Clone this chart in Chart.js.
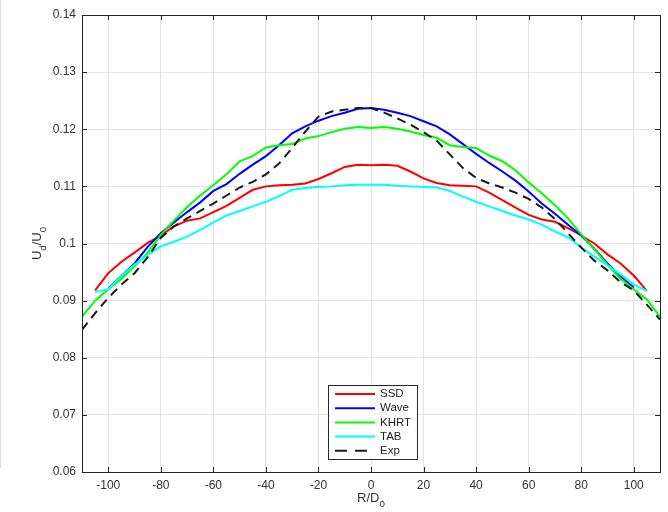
<!DOCTYPE html>
<html>
<head>
<meta charset="utf-8">
<script src="https://cdn.jsdelivr.net/npm/chart.js@4.4.1/dist/chart.umd.min.js"></script>
<style>
html, body { margin: 0; padding: 0; background: #fff; }
</style>
</head>
<body>
<canvas id="c" width="668" height="512"></canvas>
<script>
// radial position R/D0, step 5
const radius = [-110, -105, -100, -95, -90, -85, -80, -75, -70, -65, -60, -55, -50, -45, -40, -35, -30, -25, -20, -15, -10, -5,
    0, 5, 10, 15, 20, 25, 30, 35, 40, 45, 50, 55, 60, 65, 70, 75, 80, 85, 90, 95, 100, 105, 110];

const ssd = [null, 0.0918, 0.0948, 0.0968, 0.0984, 0.1001, 0.1014, 0.1030, 0.1040, 0.1044, 0.1055, 0.1066, 0.1080, 0.1094, 0.1100, 0.1102, 0.1103, 0.1105, 0.1113, 0.1123, 0.1134, 0.1138,
    0.1137, 0.1138, 0.1136, 0.1126, 0.1114, 0.1106, 0.1102, 0.1101, 0.1100, 0.1089, 0.1076, 0.1063, 0.1050, 0.1042, 0.1038, 0.1027, 0.1014, 0.1000, 0.0981, 0.0965, 0.0944, 0.0917, null];

const wave = [null, null, 0.0921, 0.0943, 0.0965, 0.0994, 0.1018, 0.1037, 0.1055, 0.1072, 0.1092, 0.1104, 0.1122, 0.1138, 0.1153, 0.1172, 0.1193, 0.1205, 0.1215, 0.1223, 0.1229, 0.1236,
    0.1237, 0.1234, 0.1229, 0.1223, 0.1214, 0.1205, 0.1191, 0.1174, 0.1157, 0.1141, 0.1126, 0.1110, 0.1091, 0.1070, 0.1052, 0.1033, 0.1014, 0.0991, 0.0965, 0.0942, 0.0923, null, null];

const khrt = [0.0872, 0.0900, 0.0920, 0.0938, 0.0960, 0.0984, 0.1015, 0.1040, 0.1064, 0.1084, 0.1102, 0.1121, 0.1144, 0.1153, 0.1168, 0.1172, 0.1174, 0.1184, 0.1188, 0.1195, 0.1201, 0.1204,
    0.1202, 0.1204, 0.1201, 0.1196, 0.1190, 0.1185, 0.1172, 0.1169, 0.1167, 0.1154, 0.1144, 0.1128, 0.1107, 0.1088, 0.1067, 0.1044, 0.1016, 0.0990, 0.0963, 0.0938, 0.0920, 0.0902, 0.0872];

const tab = [null, 0.0915, 0.0920, 0.0943, 0.0963, 0.0980, 0.0995, 0.1003, 0.1012, 0.1024, 0.1037, 0.1049, 0.1057, 0.1065, 0.1073, 0.1083, 0.1094, 0.1097, 0.1099, 0.1100, 0.1102, 0.1103,
    0.1103, 0.1103, 0.1101, 0.1100, 0.1099, 0.1098, 0.1092, 0.1082, 0.1073, 0.1065, 0.1057, 0.1049, 0.1042, 0.1033, 0.1021, 0.1011, 0.0993, 0.0977, 0.0962, 0.0946, 0.0928, 0.0917, null];

const exp = [0.0849, 0.0878, 0.0905, 0.0928, 0.0948, 0.0976, 0.1010, 0.1030, 0.1044, 0.1057, 0.1070, 0.1084, 0.1098, 0.1108, 0.1121, 0.1140, 0.1167, 0.1196, 0.1222, 0.1231, 0.1234, 0.1237,
    0.1237, 0.1229, 0.1219, 0.1208, 0.1195, 0.1180, 0.1156, 0.1132, 0.1115, 0.1105, 0.1098, 0.1089, 0.1078, 0.1063, 0.1043, 0.1018, 0.0993, 0.0970, 0.0953, 0.0932, 0.0918, 0.0893, 0.0867];

const seriesNames = ['SSD', 'Wave', 'KHRT', 'TAB', 'Exp'];
const seriesValues = [ssd, wave, khrt, tab, exp];
const seriesColors = ['#ff0000', '#0000ff', '#00ff00', '#00ffff', '#1a1a1a'];

const xTicks = [-100, -80, -60, -40, -20, 0, 20, 40, 60, 80, 100];
const yTicks = [0.06, 0.07, 0.08, 0.09, 0.10, 0.11, 0.12, 0.13, 0.14];

const FONT = '"Liberation Sans", Arial, sans-serif';
const TEXT = '#333333';

function toPoints(values) {
    return radius.map((r, i) => ({ x: r, y: values[i] }));
}

const datasets = seriesNames.map((name, i) => ({
    label: name,
    data: toPoints(seriesValues[i]),
    borderColor: seriesColors[i],
    borderWidth: 2,
    borderDash: name === 'Exp' ? [9, 6] : [],
    pointRadius: 0,
    tension: 0,
    fill: false,
    spanGaps: false,
    order: seriesNames.length - 1 - i
}));

// draws text with subscripts, parts = [[text, isSub], ...]
function subText(ctx, parts, x, y, size) {
    let w = 0;
    parts.forEach(([t, sub]) => {
        ctx.font = (sub ? size * 0.75 : size) + 'px ' + FONT;
        w += ctx.measureText(t).width;
    });
    let cx = x - w / 2;
    parts.forEach(([t, sub]) => {
        ctx.font = (sub ? size * 0.75 : size) + 'px ' + FONT;
        ctx.fillText(t, cx, sub ? y + size * 0.35 : y);
        cx += ctx.measureText(t).width;
    });
}

const framePlugin = {
    id: 'frame',
    afterDatasetsDraw(chart) {
        const { ctx, chartArea: a, scales } = chart;
        ctx.save();
        ctx.strokeStyle = '#262626';
        ctx.lineWidth = 1;
        ctx.setLineDash([]);
        ctx.beginPath();
        scales.x.ticks.forEach(t => {
            const px = Math.round(scales.x.getPixelForValue(t.value)) + 0.5;
            ctx.moveTo(px, a.bottom); ctx.lineTo(px, a.bottom - 5);
            ctx.moveTo(px, a.top); ctx.lineTo(px, a.top + 5);
        });
        scales.y.ticks.forEach(t => {
            const py = Math.round(scales.y.getPixelForValue(t.value)) + 0.5;
            ctx.moveTo(a.left, py); ctx.lineTo(a.left + 5, py);
            ctx.moveTo(a.right, py); ctx.lineTo(a.right - 5, py);
        });
        ctx.stroke();
        ctx.strokeRect(Math.round(a.left) + 0.5, Math.round(a.top) + 0.5,
            Math.round(a.right - a.left), Math.round(a.bottom - a.top));
        ctx.restore();
    },
    afterDraw(chart) {
        const { ctx, chartArea: a } = chart;
        ctx.save();
        // faint edge line at the far left
        ctx.strokeStyle = '#dcdcdc';
        ctx.beginPath();
        ctx.moveTo(0.5, 0); ctx.lineTo(0.5, 468);
        ctx.stroke();

        // axis titles
        ctx.fillStyle = TEXT;
        ctx.textBaseline = 'alphabetic';
        subText(ctx, [['R/D', false], ['0', true]], (a.left + a.right) / 2, 502, 13);
        ctx.save();
        ctx.translate(41, (a.top + a.bottom) / 2);
        ctx.rotate(-Math.PI / 2);
        subText(ctx, [['U', false], ['d', true], ['/U', false], ['0', true]], 0, 0, 13);
        ctx.restore();

        // legend box
        const bx = 328.5, by = 385.5, bw = 89, bh = 74;
        ctx.fillStyle = '#ffffff';
        ctx.fillRect(bx, by, bw, bh);
        ctx.strokeStyle = '#262626';
        ctx.lineWidth = 1;
        ctx.strokeRect(bx, by, bw, bh);
        chart.data.datasets.forEach((ds, i) => {
            const y = 394 + i * 14.2;
            ctx.strokeStyle = ds.borderColor;
            ctx.lineWidth = 2;
            ctx.setLineDash(ds.borderDash.length ? [12, 8] : []);
            ctx.beginPath();
            ctx.moveTo(335, y); ctx.lineTo(375, y);
            ctx.stroke();
            ctx.setLineDash([]);
            ctx.fillStyle = '#222';
            ctx.font = '11.5px ' + FONT;
            ctx.textBaseline = 'middle';
            ctx.fillText(ds.label, 380, y);
        });
        ctx.restore();
    }
};

new Chart(document.getElementById('c'), {
    type: 'line',
    data: { datasets },
    plugins: [framePlugin],
    options: {
        responsive: false,
        animation: false,
        devicePixelRatio: 1,
        layout: { padding: { left: 0, right: 8, top: 15, bottom: 0 } },
        plugins: {
            legend: { display: false },
            tooltip: { enabled: false }
        },
        scales: {
            x: {
                type: 'linear',
                min: -110,
                max: 110,
                afterBuildTicks: s => { s.ticks = xTicks.map(v => ({ value: v })); },
                afterFit: s => { s.height = 40; },
                grid: { color: '#e3e3e3', drawTicks: false },
                border: { display: false },
                ticks: {
                    autoSkip: false,
                    maxRotation: 0,
                    padding: 6,
                    color: TEXT,
                    font: { family: FONT, size: 12 }
                }
            },
            y: {
                min: 0.06,
                max: 0.14,
                afterBuildTicks: s => { s.ticks = yTicks.map(v => ({ value: v })); },
                afterFit: s => { s.width = 82; },
                grid: { color: '#e3e3e3', drawTicks: false },
                border: { display: false },
                ticks: {
                    padding: 6,
                    color: TEXT,
                    font: { family: FONT, size: 12 },
                    callback: v => String(+v.toFixed(2))
                }
            }
        }
    }
});
</script>
</body>
</html>
